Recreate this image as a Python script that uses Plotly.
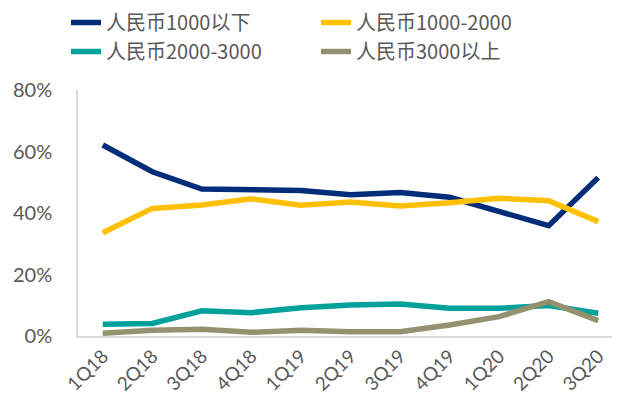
import plotly.graph_objects as go

categories = ["1Q18", "2Q18", "3Q18", "4Q18", "1Q19", "2Q19", "3Q19", "4Q19", "1Q20", "2Q20", "3Q20"]
below_1000 = [62.1, 53.4, 47.8, 47.5, 47.3, 45.9, 46.7, 45.1, 40.4, 35.9, 51.5]
r1000_2000 = [33.6, 41.5, 42.6, 44.6, 42.5, 43.6, 42.3, 43.3, 44.8, 44.0, 37.2]
r2000_3000 = [3.8, 4.1, 8.2, 7.6, 9.2, 10.1, 10.4, 9.0, 9.0, 9.9, 7.4]
above_3000 = [0.9, 1.9, 2.2, 1.2, 1.9, 1.4, 1.4, 3.6, 6.3, 11.2, 5.0]
series_names = ["人民币1000以下", "人民币1000-2000", "人民币2000-3000", "人民币3000以上"]
colors = ["#002D79", "#FFC000", "#00A19A", "#929270"]
y_ticks = [0, 20, 40, 60, 80]
y_ticktext = [f"{v}%" for v in y_ticks]

fig = go.Figure()
xs = list(range(len(categories)))
for name, vals, c in zip(series_names, [below_1000, r1000_2000, r2000_3000, above_3000], colors):
    fig.add_trace(go.Scatter(x=xs, y=vals, mode="lines", name=name,
                             line=dict(color=c, width=5.5)))

font_fam = "Lato, 'Noto Sans CJK SC', sans-serif"
fig.update_layout(
    width=620, height=403,
    margin=dict(l=70, r=5, t=82, b=75, autoexpand=False),
    paper_bgcolor="white", plot_bgcolor="white",
    font=dict(family=font_fam, color="#595959"),
    showlegend=True,
    legend=dict(orientation="h", x=58/620, xref="container", xanchor="left",
                y=1 + 87/246, yref="paper", yanchor="top",
                entrywidth=205, entrywidthmode="pixels",
                font=dict(size=20, color="#595959", family="'Noto Sans CJK SC', sans-serif"),
                traceorder="normal", bgcolor="rgba(0,0,0,0)"),
    xaxis=dict(range=[-0.5, 10.5], tickmode="array", tickvals=xs, ticktext=categories,
               tickangle=-45, showgrid=False, zeroline=False, showline=True,
               linecolor="#D9D9D9", linewidth=1.5, ticks="", automargin=False,
               tickfont=dict(size=19, color="#595959")),
    yaxis=dict(range=[0, 80], tickmode="array", tickvals=y_ticks, ticktext=y_ticktext,
               showgrid=False, zeroline=False, showline=True,
               linecolor="#D9D9D9", linewidth=1.5, ticks="", automargin=False,
               ticklabelstandoff=20,
               tickfont=dict(size=20, color="#595959")),
)
fig.write_html("out.html")
